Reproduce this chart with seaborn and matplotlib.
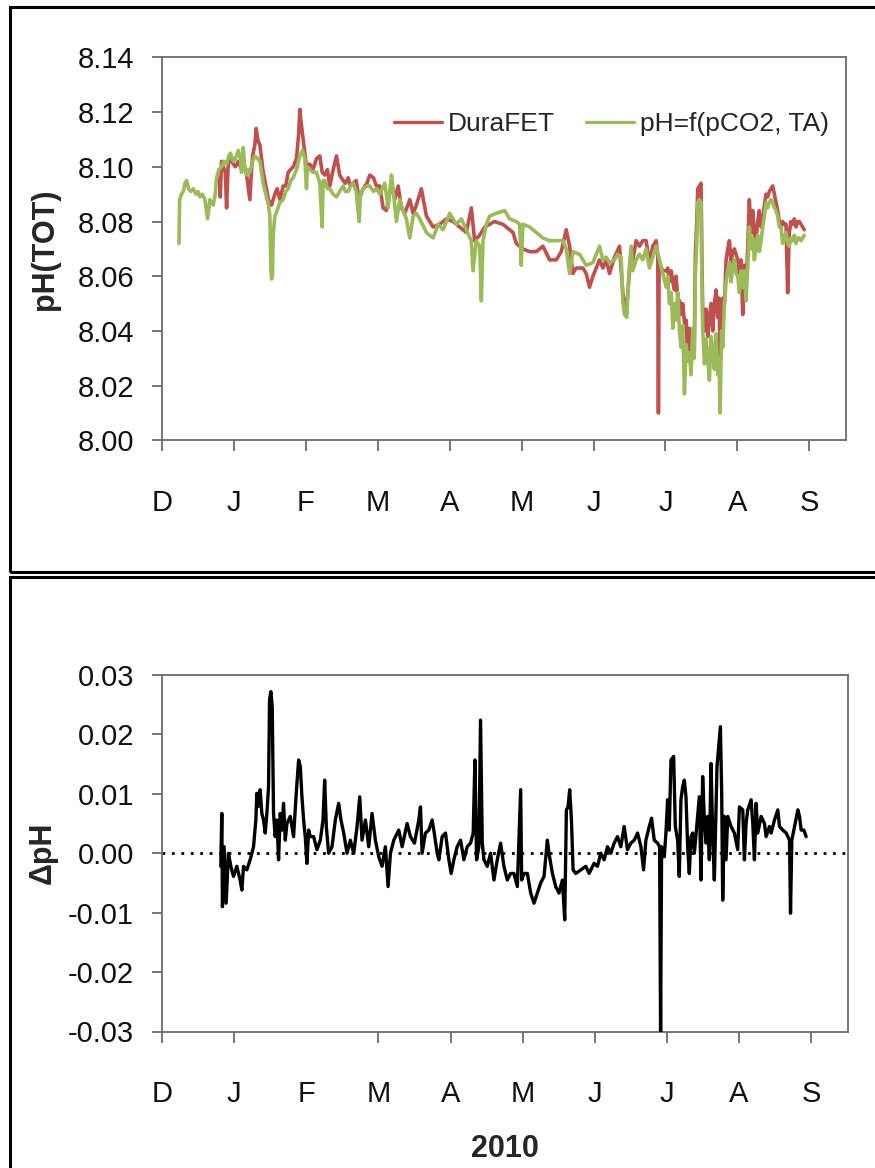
import numpy as np
import pandas as pd
import matplotlib
matplotlib.use("Agg")
import matplotlib.pyplot as plt
import seaborn as sns
from matplotlib.patches import Rectangle

# ---------------- data (x in months after 1 Dec 2009) ----------------
month_labels = ["D", "J", "F", "M", "A", "M", "J", "J", "A", "S"]
ph_ticks = [8.00, 8.02, 8.04, 8.06, 8.08, 8.10, 8.12, 8.14]
dph_ticks = [-0.03, -0.02, -0.01, 0.00, 0.01, 0.02, 0.03]

# pH computed from pCO2 and TA (green)
t_calc = [0.236, 0.245, 0.27, 0.296, 0.32, 0.342, 0.37, 0.40, 0.435, 0.47, 0.50, 0.528, 0.56, 0.597,
          0.634, 0.666, 0.69, 0.713, 0.74, 0.759, 0.79, 0.828, 0.86, 0.898, 0.93, 0.953, 0.99, 1.02,
          1.06, 1.09, 1.106, 1.13, 1.15, 1.176, 1.20, 1.222, 1.26, 1.291, 1.33, 1.361, 1.407, 1.453,
          1.48, 1.50, 1.515, 1.523, 1.535, 1.546, 1.569, 1.60, 1.639, 1.685, 1.72, 1.754, 1.79, 1.824,
          1.87, 1.916, 1.954, 1.986, 2.009, 2.02, 2.055, 2.10, 2.148, 2.194, 2.227, 2.24, 2.264, 2.30,
          2.333, 2.38, 2.426, 2.47, 2.518, 2.55, 2.588, 2.62, 2.657, 2.70, 2.741, 2.76, 2.796, 2.85,
          2.889, 2.94, 2.981, 3.03, 3.097, 3.144, 3.19, 3.213, 3.259, 3.306, 3.352, 3.398, 3.445,
          3.491, 3.537, 3.583, 3.676, 3.769, 3.838, 3.907, 4.0, 4.093, 4.162, 4.231, 4.30, 4.324,
          4.37, 4.417, 4.44, 4.463, 4.509, 4.556, 4.648, 4.764, 4.833, 4.926, 4.972, 4.995, 5.018,
          5.111, 5.204, 5.296, 5.389, 5.482, 5.574, 5.62, 5.667, 5.713, 5.806, 5.898, 5.991, 6.083,
          6.13, 6.176, 6.222, 6.292, 6.338, 6.384, 6.407, 6.43, 6.463, 6.49, 6.523, 6.546, 6.592,
          6.639, 6.685, 6.731, 6.777, 6.824, 6.87, 6.917, 6.963, 7.009, 7.032, 7.055, 7.08, 7.102,
          7.125, 7.148, 7.171, 7.194, 7.217, 7.24, 7.264, 7.287, 7.31, 7.333, 7.356, 7.38, 7.40,
          7.416, 7.435, 7.449, 7.472, 7.495, 7.505, 7.518, 7.542, 7.565, 7.588, 7.611, 7.634, 7.657,
          7.68, 7.703, 7.727, 7.745, 7.759, 7.78, 7.796, 7.82, 7.843, 7.866, 7.889, 7.912, 7.935,
          7.958, 7.981, 8.005, 8.028, 8.051, 8.074, 8.097, 8.12, 8.143, 8.166, 8.19, 8.213, 8.236,
          8.259, 8.282, 8.305, 8.33, 8.352, 8.375, 8.398, 8.421, 8.444, 8.467, 8.491, 8.514, 8.537,
          8.56, 8.583, 8.606, 8.629, 8.653, 8.676, 8.699, 8.722, 8.745, 8.768, 8.791, 8.814, 8.838,
          8.861, 8.884, 8.93]
ph_calc = [8.072, 8.088, 8.090, 8.091, 8.094, 8.095, 8.092, 8.091, 8.092, 8.090, 8.091, 8.089, 8.090, 8.088,
           8.081, 8.088, 8.087, 8.086, 8.090, 8.096, 8.099, 8.100, 8.102, 8.101, 8.104, 8.105, 8.102, 8.103,
           8.106, 8.103, 8.098, 8.107, 8.100, 8.097, 8.099, 8.098, 8.102, 8.104, 8.103, 8.102, 8.094, 8.089,
           8.086, 8.082, 8.062, 8.059, 8.060, 8.075, 8.082, 8.084, 8.087, 8.088, 8.091, 8.092, 8.095, 8.096,
           8.099, 8.104, 8.106, 8.103, 8.092, 8.100, 8.099, 8.098, 8.098, 8.094, 8.078, 8.095, 8.095, 8.092,
           8.092, 8.090, 8.089, 8.091, 8.093, 8.091, 8.091, 8.093, 8.094, 8.091, 8.080, 8.090, 8.092, 8.093,
           8.093, 8.091, 8.092, 8.090, 8.094, 8.085, 8.097, 8.092, 8.080, 8.088, 8.084, 8.081, 8.074,
           8.082, 8.083, 8.081, 8.076, 8.074, 8.079, 8.077, 8.083, 8.079, 8.081, 8.077, 8.073, 8.062,
           8.073, 8.071, 8.051, 8.073, 8.079, 8.082, 8.083, 8.084, 8.081, 8.080, 8.079, 8.064, 8.079,
           8.078, 8.076, 8.074, 8.073, 8.073, 8.073, 8.070, 8.061, 8.069, 8.068, 8.064, 8.065, 8.071,
           8.066, 8.067, 8.065, 8.066, 8.068, 8.067, 8.051, 8.046, 8.045, 8.061, 8.071, 8.062, 8.066,
           8.068, 8.066, 8.070, 8.063, 8.067, 8.071, 8.066, 8.061, 8.056, 8.060, 8.050, 8.054, 8.041,
           8.050, 8.044, 8.054, 8.040, 8.034, 8.042, 8.017, 8.035, 8.029, 8.032, 8.024, 8.041, 8.030,
           8.061, 8.072, 8.087, 8.088, 8.087, 8.060, 8.041, 8.028, 8.037, 8.030, 8.022, 8.038, 8.033,
           8.026, 8.039, 8.024, 8.030, 8.010, 8.040, 8.034, 8.050, 8.058, 8.062, 8.065, 8.058, 8.063,
           8.066, 8.061, 8.060, 8.054, 8.062, 8.056, 8.062, 8.051, 8.063, 8.078, 8.070, 8.074, 8.066,
           8.071, 8.075, 8.069, 8.073, 8.078, 8.082, 8.087, 8.085, 8.087, 8.088, 8.087, 8.085, 8.084,
           8.082, 8.078, 8.078, 8.072, 8.074, 8.076, 8.072, 8.071, 8.074, 8.073, 8.075, 8.072, 8.074,
           8.074, 8.073, 8.075]

# DuraFET sensor pH (red)
t_fet = [0.80, 0.81, 0.828, 0.85, 0.88, 0.898, 0.92, 0.953, 0.99, 1.02, 1.06, 1.09, 1.106, 1.13,
         1.176, 1.222, 1.24, 1.26, 1.291, 1.31, 1.33, 1.361, 1.407, 1.453, 1.48, 1.50, 1.523, 1.546,
         1.569, 1.60, 1.639, 1.685, 1.72, 1.754, 1.79, 1.824, 1.87, 1.90, 1.916, 1.935, 1.954, 1.986,
         2.009, 2.055, 2.10, 2.148, 2.194, 2.227, 2.264, 2.30, 2.333, 2.38, 2.426, 2.47, 2.518, 2.55,
         2.588, 2.62, 2.657, 2.70, 2.741, 2.796, 2.85, 2.889, 2.94, 2.981, 3.028, 3.074, 3.12, 3.19,
         3.236, 3.283, 3.329, 3.375, 3.445, 3.491, 3.537, 3.606, 3.676, 3.769, 3.861, 3.954, 4.046,
         4.139, 4.231, 4.301, 4.347, 4.417, 4.486, 4.556, 4.62, 4.74, 4.787, 4.88, 4.926, 5.018,
         5.111, 5.204, 5.296, 5.389, 5.482, 5.551, 5.62, 5.667, 5.713, 5.759, 5.852, 5.898, 5.944,
         5.991, 6.083, 6.13, 6.176, 6.222, 6.292, 6.361, 6.407, 6.453, 6.5, 6.546, 6.592, 6.639,
         6.685, 6.731, 6.777, 6.824, 6.87, 6.893, 6.902, 6.912, 6.963, 7.009, 7.032, 7.055, 7.08,
         7.102, 7.125, 7.148, 7.171, 7.194, 7.217, 7.24, 7.264, 7.287, 7.31, 7.333, 7.356, 7.38,
         7.40, 7.416, 7.435, 7.449, 7.472, 7.495, 7.505, 7.518, 7.542, 7.565, 7.588, 7.611, 7.634,
         7.657, 7.68, 7.703, 7.727, 7.745, 7.759, 7.78, 7.796, 7.82, 7.843, 7.866, 7.889, 7.912,
         7.935, 7.958, 7.981, 8.005, 8.028, 8.051, 8.074, 8.097, 8.12, 8.143, 8.166, 8.19, 8.213,
         8.236, 8.259, 8.282, 8.305, 8.33, 8.352, 8.375, 8.398, 8.421, 8.444, 8.467, 8.491, 8.514,
         8.537, 8.56, 8.583, 8.606, 8.629, 8.653, 8.676, 8.699, 8.722, 8.745, 8.768, 8.791, 8.814,
         8.838, 8.861, 8.884, 8.93]
ph_fet = [8.096, 8.089, 8.102, 8.100, 8.098, 8.085, 8.101, 8.103, 8.101, 8.100, 8.102, 8.100, 8.099, 8.102,
          8.097, 8.088, 8.097, 8.104, 8.108, 8.114, 8.110, 8.108, 8.098, 8.092, 8.088, 8.087, 8.086, 8.088,
          8.090, 8.092, 8.088, 8.093, 8.093, 8.098, 8.099, 8.100, 8.103, 8.112, 8.121, 8.116, 8.112, 8.105,
          8.100, 8.101, 8.099, 8.103, 8.104, 8.098, 8.097, 8.099, 8.093, 8.099, 8.104, 8.097, 8.095, 8.094,
          8.096, 8.093, 8.094, 8.095, 8.088, 8.092, 8.094, 8.097, 8.096, 8.093, 8.093, 8.085, 8.084, 8.094,
          8.088, 8.093, 8.085, 8.083, 8.088, 8.083, 8.086, 8.092, 8.082, 8.078, 8.079, 8.081, 8.080,
          8.078, 8.076, 8.085, 8.073, 8.075, 8.078, 8.079, 8.080, 8.079, 8.078, 8.076, 8.072, 8.070,
          8.069, 8.069, 8.071, 8.066, 8.066, 8.069, 8.077, 8.071, 8.061, 8.063, 8.063, 8.061, 8.056,
          8.060, 8.066, 8.063, 8.066, 8.061, 8.067, 8.071, 8.054, 8.046, 8.062, 8.066, 8.073, 8.071,
          8.073, 8.073, 8.065, 8.071, 8.073, 8.067, 8.010, 8.065, 8.062, 8.062, 8.063, 8.058, 8.062,
          8.058, 8.055, 8.060, 8.052, 8.051, 8.046, 8.050, 8.043, 8.044, 8.030, 8.041, 8.030, 8.040,
          8.034, 8.068, 8.080, 8.092, 8.093, 8.094, 8.070, 8.047, 8.040, 8.048, 8.038, 8.045, 8.050,
          8.040, 8.050, 8.055, 8.045, 8.052, 8.030, 8.038, 8.052, 8.050, 8.066, 8.070, 8.073, 8.065,
          8.069, 8.070, 8.068, 8.066, 8.061, 8.066, 8.046, 8.064, 8.056, 8.070, 8.088, 8.076, 8.084,
          8.075, 8.073, 8.080, 8.084, 8.078, 8.080, 8.086, 8.090, 8.089, 8.091, 8.092, 8.093, 8.090,
          8.087, 8.084, 8.080, 8.078, 8.080, 8.079, 8.079, 8.054, 8.076, 8.080, 8.079, 8.081, 8.078,
          8.080, 8.080, 8.079, 8.077]

# Difference DuraFET - calculated (black)
t_dph = [0.815, 0.829, 0.838, 0.861, 0.889, 0.921, 0.954, 0.991, 1.037, 1.083, 1.107, 1.13, 1.176, 1.222,
         1.269, 1.301, 1.315, 1.338, 1.361, 1.384, 1.407, 1.431, 1.454, 1.477, 1.491, 1.509, 1.528, 1.546,
         1.569, 1.593, 1.616, 1.639, 1.662, 1.685, 1.709, 1.732, 1.778, 1.824, 1.861, 1.894, 1.917, 1.94,
         1.963, 1.986, 2.009, 2.033, 2.056, 2.102, 2.148, 2.195, 2.232, 2.255, 2.278, 2.31, 2.357, 2.403,
         2.449, 2.481, 2.519, 2.565, 2.611, 2.658, 2.704, 2.741, 2.773, 2.82, 2.866, 2.912, 2.958, 3.005,
         3.051, 3.097, 3.134, 3.167, 3.213, 3.282, 3.329, 3.398, 3.444, 3.5, 3.56, 3.583, 3.606, 3.652,
         3.699, 3.745, 3.768, 3.815, 3.838, 3.884, 3.93, 3.977, 4.009, 4.046, 4.092, 4.139, 4.185, 4.231,
         4.277, 4.314, 4.338, 4.361, 4.393, 4.416, 4.44, 4.463, 4.509, 4.555, 4.602, 4.648, 4.694, 4.74,
         4.787, 4.833, 4.879, 4.926, 4.972, 4.986, 5.018, 5.065, 5.111, 5.157, 5.203, 5.25, 5.296, 5.342,
         5.365, 5.412, 5.458, 5.504, 5.551, 5.583, 5.606, 5.629, 5.652, 5.676, 5.699, 5.736, 5.805, 5.875,
         5.921, 5.99, 6.037, 6.083, 6.129, 6.176, 6.222, 6.268, 6.314, 6.361, 6.407, 6.453, 6.5, 6.546,
         6.593, 6.639, 6.676, 6.708, 6.755, 6.787, 6.824, 6.87, 6.898, 6.912, 6.926, 6.963, 6.986, 7.009,
         7.032, 7.056, 7.093, 7.116, 7.148, 7.171, 7.194, 7.218, 7.241, 7.264, 7.287, 7.31, 7.333, 7.356,
         7.38, 7.426, 7.449, 7.472, 7.495, 7.519, 7.542, 7.565, 7.588, 7.611, 7.634, 7.657, 7.694, 7.718,
         7.741, 7.759, 7.773, 7.796, 7.819, 7.843, 7.889, 7.935, 7.981, 8.005, 8.051, 8.074, 8.097, 8.12,
         8.167, 8.19, 8.213, 8.236, 8.259, 8.306, 8.352, 8.375, 8.421, 8.444, 8.491, 8.537, 8.56, 8.606,
         8.653, 8.676, 8.699, 8.713, 8.731, 8.769, 8.815, 8.838, 8.861, 8.898, 8.93]
dph = [-0.0022, 0.0067, -0.0090, 0.0011, -0.0084, 0.0000, -0.0022, -0.0039, -0.0022, -0.0045, -0.0062, -0.0022, -0.0028, -0.0011,
       0.0011, 0.0056, 0.0101, 0.0079, 0.0107, 0.0067, 0.0056, 0.0034, 0.0067, 0.0112, 0.0258, 0.0272, 0.0247, 0.0067,
       0.0028, 0.0056, -0.0011, 0.0067, 0.0039, 0.0084, 0.0022, 0.0050, 0.0062, 0.0028, 0.0101, 0.0157, 0.0146, 0.0095,
       0.0056, 0.0028, -0.0017, 0.0039, 0.0028, 0.0028, 0.0006, 0.0022, 0.0056, 0.0123, 0.0045, 0.0000, 0.0011, 0.0056,
       0.0084, 0.0056, 0.0034, 0.0000, 0.0022, 0.0000, 0.0045, 0.0095, 0.0022, 0.0056, 0.0011, 0.0067, 0.0022, -0.0006,
       -0.0022, 0.0011, -0.0056, 0.0000, 0.0022, 0.0039, 0.0011, 0.0050, 0.0028, 0.0017, 0.0056, 0.0078, 0.0000, 0.0034,
       0.0039, 0.0056, 0.0039, 0.0000, -0.0011, 0.0028, 0.0034, -0.0011, -0.0034, -0.0011, 0.0011, 0.0022, -0.0011, 0.0011,
       0.0017, 0.0034, 0.0157, -0.0011, 0.0011, 0.0224, 0.0017, -0.0011, -0.0022, 0.0000, -0.0045, -0.0011, 0.0017, -0.0022,
       -0.0045, -0.0034, -0.0034, -0.0056, 0.0107, -0.0045, -0.0034, -0.0034, -0.0067, -0.0084, -0.0067, -0.0050, -0.0039, 0.0022,
       0.0000, -0.0034, -0.0056, -0.0067, -0.0045, -0.0112, 0.0073, 0.0078, 0.0107, 0.0056, -0.0028, -0.0034, -0.0028, -0.0022,
       -0.0034, -0.0017, -0.0022, 0.0000, -0.0011, 0.0011, 0.0000, 0.0017, 0.0028, 0.0011, 0.0045, 0.0006, 0.0017, 0.0022,
       0.0034, 0.0011, -0.0028, 0.0022, 0.0045, 0.0059, 0.0022, 0.0017, 0.0011, -0.0303, 0.0011, -0.0006, 0.0034, 0.0090,
       0.0039, 0.0157, 0.0163, 0.0045, 0.0022, -0.0039, 0.0090, 0.0112, 0.0123, 0.0095, 0.0011, -0.0034, 0.0028, 0.0034,
       0.0000, 0.0062, 0.0095, -0.0045, 0.0129, 0.0056, 0.0017, 0.0062, -0.0011, 0.0151, 0.0034, -0.0045, 0.0146, 0.0180,
       0.0213, 0.0101, -0.0079, 0.0062, -0.0011, 0.0062, 0.0045, 0.0034, 0.0006, 0.0078, 0.0073, -0.0011, 0.0050, 0.0073,
       0.0090, 0.0050, -0.0011, 0.0084, 0.0034, 0.0062, 0.0050, 0.0028, 0.0045, 0.0034, 0.0056, 0.0073, 0.0045, 0.0039,
       0.0034, 0.0028, 0.0022, -0.0101, 0.0022, 0.0045, 0.0073, 0.0062, 0.0039, 0.0039, 0.0028]

# ---------------- styling ----------------
RED = "#C0504D"
GREEN = "#9BBB59"
SPINE = "#6b6b6b"
FS = 21

sns.set_style("white")
plt.rcParams["font.family"] = ["Liberation Sans", "DejaVu Sans"]

W, H = 875, 1168
fig = plt.figure(figsize=(W / 100, H / 100), dpi=100)

ax1 = fig.add_axes([162 / W, 1 - 440.4 / H, 684 / W, 383 / H])
ax2 = fig.add_axes([162 / W, 1 - 1031.5 / H, 686 / W, 356.5 / H])

df_fet = pd.DataFrame({"t": t_fet, "ph": ph_fet})
df_calc = pd.DataFrame({"t": t_calc, "ph": ph_calc})
df_d = pd.DataFrame({"t": t_dph, "d": dph})

sns.lineplot(data=df_fet, x="t", y="ph", ax=ax1, color=RED, lw=2.6,
             label="DuraFET", estimator=None, sort=False)
sns.lineplot(data=df_calc, x="t", y="ph", ax=ax1, color=GREEN, lw=2.6,
             label="pH=f(pCO2, TA)", estimator=None, sort=False)

ax2.axhline(0, color="black", lw=2.0, ls=(0, (1, 2.4)), zorder=1)
sns.lineplot(data=df_d, x="t", y="d", ax=ax2, color="black", lw=2.4,
             estimator=None, sort=False, zorder=3)

for ax in (ax1, ax2):
    ax.set_xlim(0, 9.51)
    ax.set_xticks(range(len(month_labels)))
    ax.set_xticklabels(month_labels)
    ax.set_xlabel("")
    ax.set_ylabel("")
    for s in ax.spines.values():
        s.set_color(SPINE)
        s.set_linewidth(1.3)
        s.set_visible(True)
    ax.tick_params(axis="x", direction="out", length=8, width=1.3, color=SPINE,
                   pad=27, labelsize=FS, bottom=True, labelcolor="#111111")
    ax.tick_params(axis="y", direction="out", length=7, width=1.3, color=SPINE,
                   pad=13, labelsize=FS, left=True, labelcolor="#111111")
    ax.grid(False)

ax1.set_ylim(8.00, 8.14)
ax1.set_yticks(ph_ticks)
ax1.set_yticklabels([f"{v:.2f}" for v in ph_ticks])
ax2.set_ylim(-0.03, 0.03)
ax2.set_yticks(dph_ticks)
ax2.set_yticklabels([f"{v:.2f}".replace("-0.00", "0.00") for v in dph_ticks])
ax2.xaxis.get_major_ticks()[2].tick1line.set_visible(False)

ax1.set_ylabel("pH(TOT)", fontsize=22, fontweight="bold")
ax1.yaxis.set_label_coords(-0.149, 0.5)
ax2.set_ylabel("ΔpH", fontsize=22, fontweight="bold")
ax2.yaxis.set_label_coords(-0.152, 0.5)

fig.text(505 / W, 1 - 1157 / H, "2010", ha="center", va="baseline", fontsize=22, fontweight="bold")

leg = ax1.legend(loc="center", bbox_to_anchor=(0.657, 0.826), ncol=2, frameon=False,
                 fontsize=19, handlelength=1.82, handletextpad=0.2, columnspacing=1.2)
for line in leg.get_lines():
    line.set_linewidth(2.4)

# panel frames
fig.add_artist(Rectangle((10 / W, 1 - 572 / H), 1.0, (572 - 7) / H, transform=fig.transFigure,
                         fill=False, lw=2.2, ec="black"))
fig.add_artist(Rectangle((10 / W, -0.1), 1.0, (1 - 577 / H) + 0.1, transform=fig.transFigure,
                         fill=False, lw=2.2, ec="black"))

fig.savefig("out.png", dpi=100)
